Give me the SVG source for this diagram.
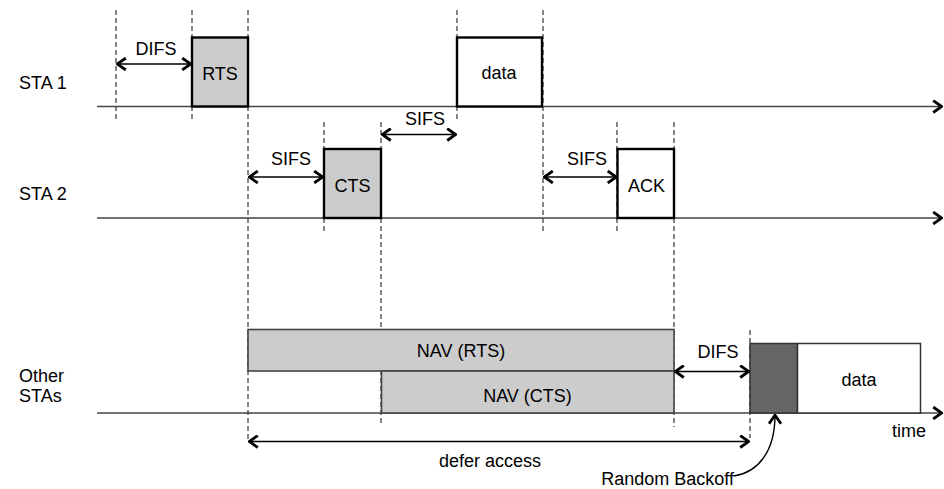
<svg xmlns="http://www.w3.org/2000/svg" width="944" height="489" viewBox="0 0 944 489">
<defs>
<style>
text{font-family:"Liberation Sans",Arial,sans-serif;font-size:18px;fill:#000}
.c{text-anchor:middle}
.dash{stroke:#222;stroke-width:1.1;stroke-dasharray:5,3;fill:none}
.axis{stroke:#444;stroke-width:1.6;fill:none}
.arr{stroke:#000;stroke-width:1.4;fill:none}
.frame{stroke:#000;stroke-width:2.4}
.nav{fill:#ccc;stroke:#444;stroke-width:1.6}
</style>
<marker id="ah" viewBox="0 0 11 14" markerWidth="11" markerHeight="14" refX="10" refY="7" markerUnits="userSpaceOnUse" orient="auto-start-reverse">
<path d="M1.2,1 L9.8,7 L1.2,13" fill="none" stroke="#000" stroke-width="2.8"/>
</marker>
</defs>
<rect width="944" height="489" fill="#fff"/>
<g id="labels">
<text x="19" y="89">STA 1</text>
<text x="19" y="200">STA 2</text>
<text x="19" y="382">Other</text>
<text x="19" y="402">STAs</text>
</g>
<g id="guides">
<line class="dash" x1="116" y1="10" x2="116" y2="120"/>
<line class="dash" x1="192" y1="10" x2="192" y2="120"/>
<line class="dash" x1="248" y1="10" x2="248" y2="440"/>
<line class="dash" x1="457" y1="10" x2="457" y2="121"/>
<line class="dash" x1="543" y1="10" x2="543" y2="232"/>
<line class="dash" x1="324" y1="122" x2="324" y2="232"/>
<line class="dash" x1="381" y1="122" x2="381" y2="426"/>
<line class="dash" x1="617" y1="122" x2="617" y2="232"/>
<line class="dash" x1="674" y1="122" x2="674" y2="427"/>
<line class="dash" x1="750" y1="330" x2="750" y2="438"/>
</g>
<g id="axes">
<line class="axis" x1="97" y1="106.5" x2="942" y2="106.5" marker-end="url(#ah)"/>
<line class="axis" x1="97" y1="218" x2="942" y2="218" marker-end="url(#ah)"/>
<line class="axis" x1="97" y1="413" x2="942" y2="413" marker-end="url(#ah)"/>
</g>
<g id="rts">
<rect class="frame" x="192" y="37.5" width="56" height="69" fill="#ccc"/>
<text class="c" x="220" y="80">RTS</text>
</g>
<g id="data1">
<rect class="frame" x="457" y="37.5" width="85" height="69" fill="#fff"/>
<text class="c" x="499" y="79">data</text>
</g>
<g id="cts">
<rect class="frame" x="324" y="149" width="57" height="69" fill="#ccc"/>
<text class="c" x="352.5" y="192">CTS</text>
</g>
<g id="ack">
<rect class="frame" x="617.5" y="149" width="56.5" height="69" fill="#fff"/>
<text class="c" x="646.5" y="192">ACK</text>
</g>
<g id="navrts">
<rect class="nav" x="248" y="329.5" width="426" height="41.5"/>
<text class="c" x="461" y="357">NAV (RTS)</text>
</g>
<g id="navcts">
<rect class="nav" x="381.5" y="371" width="292.5" height="42"/>
<text class="c" x="527.5" y="402">NAV (CTS)</text>
</g>
<g id="backoff">
<rect x="750" y="343.5" width="47.5" height="69.5" fill="#666" stroke="#333" stroke-width="1.5"/>
</g>
<g id="data2">
<rect x="797.5" y="343.5" width="123" height="69.5" fill="#fff" stroke="#333" stroke-width="1.5"/>
<text class="c" x="859" y="386">data</text>
</g>
<g id="connectors">
<line class="arr" x1="117" y1="64" x2="191" y2="64" marker-start="url(#ah)" marker-end="url(#ah)"/>
<line class="arr" x1="382" y1="134.5" x2="456" y2="134.5" marker-start="url(#ah)" marker-end="url(#ah)"/>
<line class="arr" x1="249" y1="177" x2="323" y2="177" marker-start="url(#ah)" marker-end="url(#ah)"/>
<line class="arr" x1="544" y1="177" x2="616.5" y2="177" marker-start="url(#ah)" marker-end="url(#ah)"/>
<line class="arr" x1="675" y1="371.5" x2="749" y2="371.5" marker-start="url(#ah)" marker-end="url(#ah)"/>
<line class="arr" x1="249" y1="441.5" x2="749" y2="441.5" marker-start="url(#ah)" marker-end="url(#ah)"/>
<path class="arr" d="M734,476 C758,472 775,452 775,415" marker-end="url(#ah)"/>
</g>
<g id="annotations">
<text class="c" x="156" y="55">DIFS</text>
<text class="c" x="425" y="125">SIFS</text>
<text class="c" x="291" y="165">SIFS</text>
<text class="c" x="587" y="165">SIFS</text>
<text class="c" x="718" y="358">DIFS</text>
<text class="c" x="909" y="437">time</text>
<text class="c" x="490" y="467">defer access</text>
<text x="734" y="485" text-anchor="end">Random Backoff</text>
</g>
</svg>
